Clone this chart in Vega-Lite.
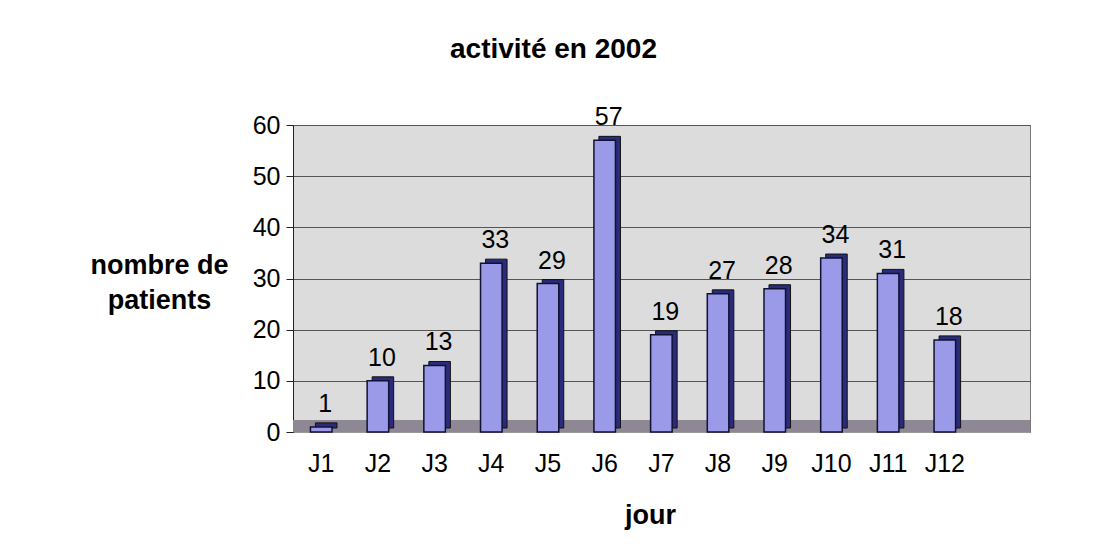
{
  "$schema": "https://vega.github.io/schema/vega-lite/v6.json",
  "width": 737,
  "height": 307,
  "autosize": {"type": "none"},
  "padding": {"left": 293, "top": 125, "right": 63, "bottom": 125},
  "background": "white",
  "title": {
    "text": "activité en 2002",
    "font": "Liberation Sans",
    "fontSize": 28,
    "fontWeight": "bold",
    "color": "black",
    "anchor": "middle",
    "dx": -108,
    "offset": 41
  },
  "data": {
    "values": [
      {"jour": "J1", "patients": 1},
      {"jour": "J2", "patients": 10},
      {"jour": "J3", "patients": 13},
      {"jour": "J4", "patients": 33},
      {"jour": "J5", "patients": 29},
      {"jour": "J6", "patients": 57},
      {"jour": "J7", "patients": 19},
      {"jour": "J8", "patients": 27},
      {"jour": "J9", "patients": 28},
      {"jour": "J10", "patients": 34},
      {"jour": "J11", "patients": 31},
      {"jour": "J12", "patients": 18}
    ]
  },
  "encoding": {
    "x": {
      "field": "jour",
      "type": "ordinal",
      "sort": null,
      "scale": {"paddingInner": 0.62, "paddingOuter": 0.81, "align": 0.19},
      "axis": {
        "title": "jour",
        "labelAngle": 0,
        "labelFont": "Liberation Sans",
        "labelFontSize": 25,
        "labelColor": "black",
        "labelPadding": 19,
        "ticks": false,
        "domainColor": "#999999",
        "titleFont": "Liberation Sans",
        "titleFontSize": 27,
        "titleFontWeight": "bold",
        "titleColor": "black",
        "titleX": 357,
        "titleY": 91,
        "titleBaseline": "alphabetic"
      }
    },
    "y": {
      "field": "patients",
      "type": "quantitative",
      "scale": {"domain": [0, 60], "nice": false},
      "axis": {
        "title": ["nombre de", "patients"],
        "values": [0, 10, 20, 30, 40, 50, 60],
        "labelFont": "Liberation Sans",
        "labelFontSize": 25,
        "labelColor": "black",
        "labelPadding": 6,
        "tickSize": 7,
        "domainColor": "#222222",
        "tickColor": "#222222",
        "gridColor": "#555555",
        "grid": true,
        "titleFont": "Liberation Sans",
        "titleFontSize": 27,
        "titleFontWeight": "bold",
        "titleColor": "black",
        "titleAngle": 0,
        "titleAlign": "center",
        "titleBaseline": "middle",
        "titleX": -134,
        "titleY": 140,
        "titleLineHeight": 35
      }
    }
  },
  "layer": [
    {
      "mark": {"type": "rect", "color": "#8e8794"},
      "encoding": {
        "x": null,
        "y": {"datum": 0, "type": "quantitative"},
        "y2": {"datum": 2.2}
      }
    },
    {
      "mark": {"type": "bar", "fill": "#2b2b7c", "stroke": "#111111", "strokeWidth": 1, "xOffset": 5, "yOffset": -4}
    },
    {
      "mark": {"type": "bar", "fill": "#9a9ae8", "stroke": "#111133", "strokeWidth": 1.5}
    },
    {
      "mark": {"type": "text", "font": "Liberation Sans", "fontSize": 25, "color": "black", "baseline": "bottom", "dy": -10, "dx": 4},
      "encoding": {"text": {"field": "patients", "type": "quantitative"}}
    }
  ],
  "config": {
    "view": {"fill": "#dcdcdc", "stroke": "#777777"}
  }
}
